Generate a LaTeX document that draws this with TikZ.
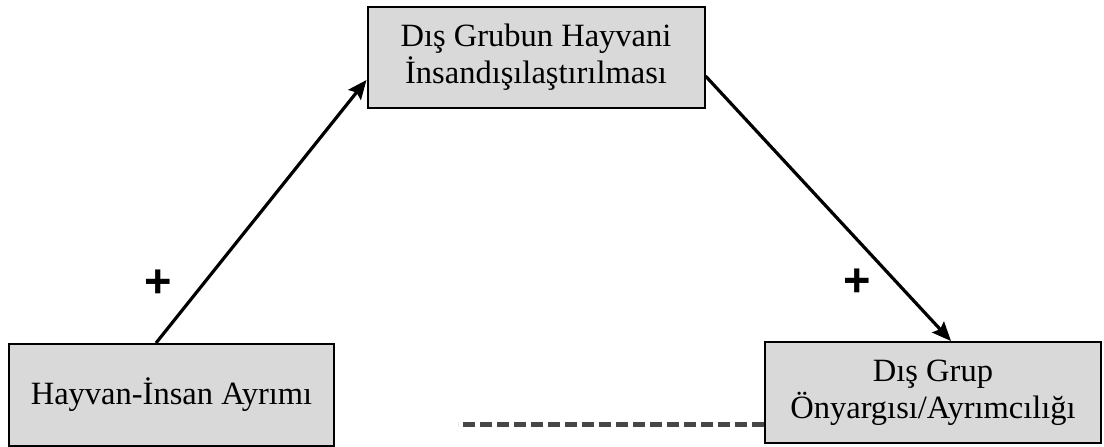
\documentclass[tikz,border=0pt]{standalone}
\usepackage{fontspec}
\setmainfont{Liberation Serif}
\newfontfamily\plusfont{Liberation Sans}
\usetikzlibrary{arrows.meta}
\definecolor{boxfill}{HTML}{D9D9D9}
\begin{document}
\begin{tikzpicture}[x=1pt,y=-1pt,
  box/.style={draw=black,line width=2pt,fill=boxfill,inner sep=0pt,align=center,
    font=\fontsize{32.5}{37}\selectfont},
  arr/.style={line width=3.2pt,-{Stealth[length=19pt,width=16pt,inset=3pt]}},
  dline/.style={line width=5pt,draw=black!72,dash pattern=on 12pt off 5pt},
  plus/.style={font=\plusfont\bfseries\fontsize{47}{47}\selectfont,inner sep=0pt}]
\useasboundingbox (0,0) rectangle (1104,447);
\node[box,minimum width=337pt,minimum height=101pt] (T) at (536,57.5) {Dış Grubun Hayvani\\İnsandışılaştırılması};
\node[box,minimum width=325pt,minimum height=102pt] (L) at (171.5,395) {Hayvan-İnsan Ayrımı};
\node[box,minimum width=336pt,minimum height=101pt] (R) at (933,392.5) {Dış Grup\\Önyargısı/Ayrımcılığı};
\draw[arr] ([xshift=148pt]L.north west) -- ([yshift=-22.5pt]T.west);
\draw[arr] ([yshift=-18.5pt]T.east) -- ([xshift=187pt]R.north west);
\coordinate (dEnd) at (458,424);
\draw[dline] ([yshift=-31.5pt]R.west) -- (dEnd);
\node[plus] (p1) at (158.5,284) {+};
\node[plus] (p2) at (857.5,283) {+};
\end{tikzpicture}
\end{document}
